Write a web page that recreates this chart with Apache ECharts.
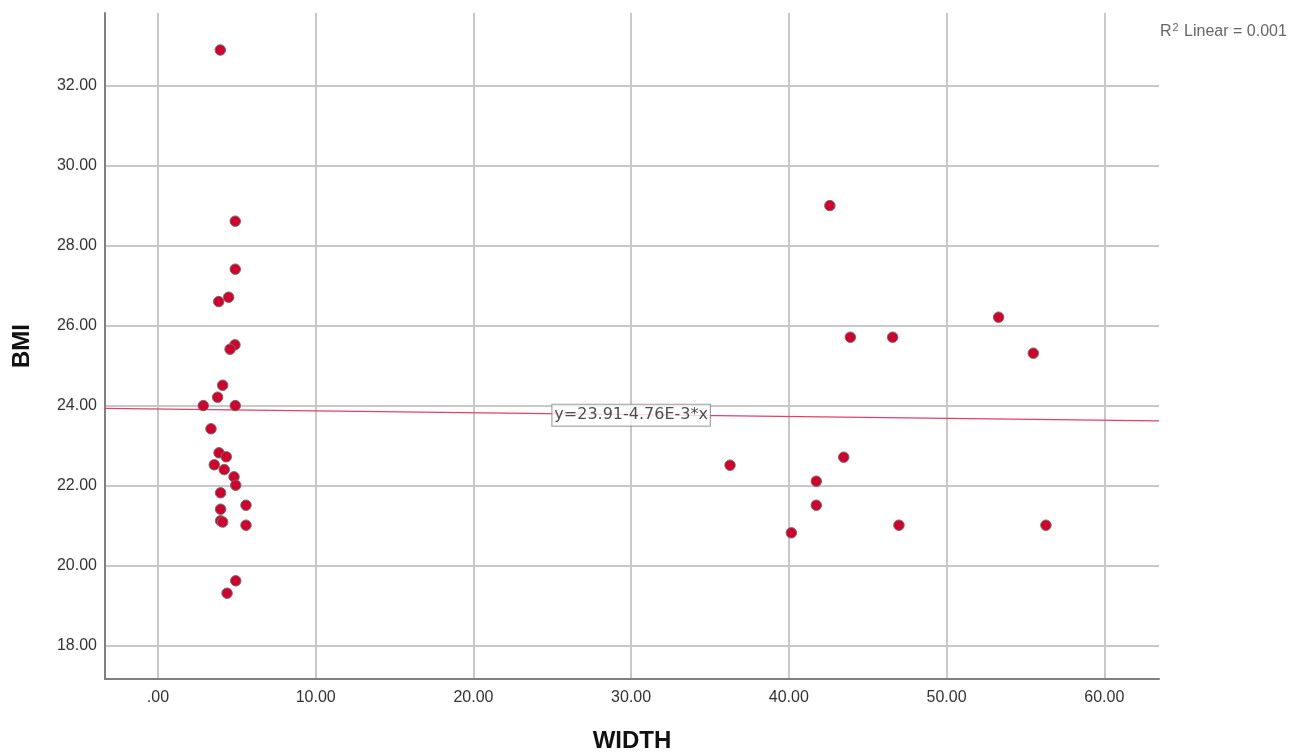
<!DOCTYPE html>
<html><head><meta charset="utf-8">
<script src="https://cdn.jsdelivr.net/npm/echarts@6/dist/echarts.min.js"></script>
<style>html,body{margin:0;padding:0;background:#fff}#c{width:1303px;height:753px}</style>
</head><body><div id="c"></div>
<script>
var widthValues = [3.95,4.90,4.90,4.48,3.85,4.88,4.57,4.10,3.78,2.87,4.90,3.36,3.87,4.33,3.57,4.20,4.82,4.93,3.97,5.58,3.97,3.97,4.10,5.58,4.93,4.38,
  42.6,43.9,46.58,53.3,55.5,36.27,43.48,41.74,41.74,40.16,46.98,56.3];
var bmiValues = [32.90,28.62,27.42,26.72,26.61,25.53,25.42,24.52,24.22,24.01,24.01,23.43,22.83,22.73,22.53,22.41,22.23,22.02,21.83,21.52,21.42,21.13,21.10,21.02,19.63,19.32,
  29.01,25.72,25.72,26.22,25.32,22.52,22.72,22.12,21.52,20.83,21.02,21.02];
var xTicks = [0,10,20,30,40,50,60];
var yTicks = [18,20,22,24,26,28,30,32];
var fitLine = [[-3.36,23.94],[63.47,23.63]];
var eqLabelPos = [30,23.77];
var eqText = 'y=23.91-4.76E-3*x';

var points = widthValues.map(function(w,i){return [w,bmiValues[i]];});
var fmt = function(v){ return v===0 ? '.00' : v.toFixed(2); };
var font = 'Liberation Sans, Arial, sans-serif';
var chart = echarts.init(document.getElementById('c'));
chart.setOption({
  animation:false,
  backgroundColor:'#fff',
  title:{
    text:'{a|R}{s|2}{a| Linear = 0.001}',
    left:1155, top:17,
    textStyle:{fontWeight:'normal',rich:{
      a:{fontSize:16,color:'#666',fontFamily:font,fontWeight:'normal',verticalAlign:'middle',lineHeight:20},
      s:{fontSize:11,color:'#666',fontFamily:font,fontWeight:'normal',verticalAlign:'middle',lineHeight:12,padding:[0,1,9,1]}
    }}
  },
  grid:{left:105,right:144,top:13,bottom:74,containLabel:false,outerBoundsMode:'none'},
  xAxis:{
    type:'value',min:-3.36,max:63.47,
    name:'WIDTH',nameLocation:'middle',nameGap:50,
    nameTextStyle:{fontSize:24,fontWeight:'bold',color:'#111',fontFamily:font},
    axisLine:{show:true,onZero:false,lineStyle:{color:'#808080',width:2}},
    axisTick:{show:false,customValues:xTicks},
    axisLabel:{customValues:xTicks,formatter:fmt,fontSize:16,color:'#333',fontFamily:font,margin:11},
    splitLine:{show:true,lineStyle:{color:'#c8c8c8',width:2}}
  },
  yAxis:{
    type:'value',min:17.175,max:33.825,
    name:'BMI',nameLocation:'middle',nameGap:71,nameRotate:90,
    nameTextStyle:{fontSize:24,fontWeight:'bold',color:'#111',fontFamily:font},
    axisLine:{show:true,onZero:false,lineStyle:{color:'#808080',width:2}},
    axisTick:{show:false,customValues:yTicks},
    axisLabel:{customValues:yTicks,formatter:fmt,fontSize:16,color:'#333',fontFamily:font,margin:8},
    splitLine:{show:true,lineStyle:{color:'#c8c8c8',width:2}}
  },
  series:[
    {type:'line',data:fitLine,symbol:'none',lineStyle:{color:'#e0406a',width:1.2},z:2,silent:true},
    {type:'scatter',data:points,symbolSize:10.5,
     itemStyle:{color:'#d4002c',opacity:1,borderColor:'#707070',borderWidth:1},z:3},
    {type:'scatter',data:[eqLabelPos],symbolSize:0,z:4,
     label:{show:true,position:'inside',formatter:eqText,fontSize:16,color:'#222',fontFamily:'DejaVu Sans, sans-serif',
       backgroundColor:'#fff',borderColor:'#888',borderWidth:1,padding:[3,2,2,2]}}
  ]
});
</script></body></html>
